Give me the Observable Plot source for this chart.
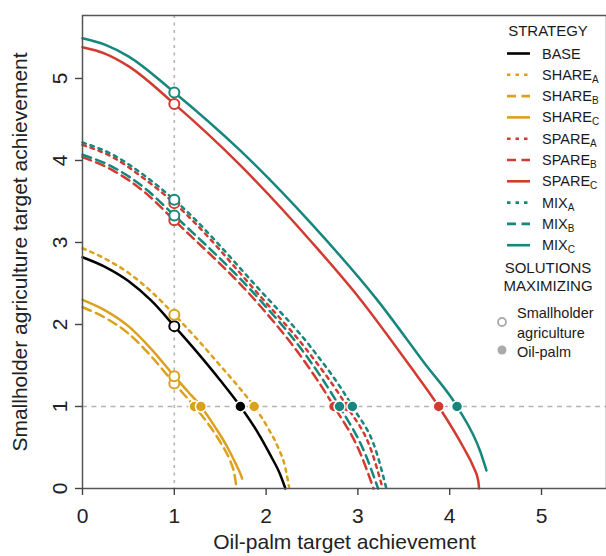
<!DOCTYPE html>
<html><head><meta charset="utf-8">
<script src="https://cdn.jsdelivr.net/npm/d3@7"></script>
<script src="https://cdn.jsdelivr.net/npm/@observablehq/plot@0.6"></script>
<style>
html,body{margin:0;padding:0;background:#fff;overflow:hidden}
#wrap{position:relative;width:606px;height:556px;font-family:"Liberation Sans",Arial,Helvetica,sans-serif}
#wrap svg{position:absolute;left:0;top:0}
</style></head><body><div id="wrap"></div>
<script>
// ---- data ----
const strategies = ["BASE","SHARE_A","SHARE_B","SHARE_C","SPARE_A","SPARE_B","SPARE_C","MIX_A","MIX_B","MIX_C"];
const legendMain = ["BASE","SHARE","SHARE","SHARE","SPARE","SPARE","SPARE","MIX","MIX","MIX"];
const legendSub  = ["","A","B","C","A","B","C","A","B","C"];

const BASE    = [[0,2.82],[0.25,2.70],[0.5,2.53],[0.75,2.29],[1,1.98],[1.25,1.66],[1.5,1.32],[1.72,1.0],[1.9,0.7],[2.05,0.4],[2.15,0.18],[2.21,0]];
const SHARE_A = [[0,2.93],[0.25,2.80],[0.5,2.63],[0.75,2.40],[1,2.12],[1.25,1.82],[1.5,1.50],[1.7,1.24],[1.87,1.0],[2.02,0.74],[2.13,0.5],[2.21,0.25],[2.25,0.02]];
const SHARE_B = [[0,2.21],[0.25,2.08],[0.5,1.89],[0.75,1.61],[1,1.28],[1.22,1.0],[1.40,0.74],[1.52,0.53],[1.60,0.36],[1.65,0.2],[1.68,0]];
const SHARE_C = [[0,2.30],[0.25,2.17],[0.5,1.98],[0.75,1.70],[1,1.37],[1.15,1.18],[1.29,1.0],[1.45,0.74],[1.58,0.5],[1.67,0.3],[1.72,0.18],[1.74,0.12]];
const SPARE_A = [[0,4.19],[0.33,4.04],[0.67,3.78],[1,3.48],[1.94,2.34],[2.45,1.68],[2.88,1.0],[3.15,0.45],[3.27,0]];
const SPARE_B = [[0,4.04],[0.33,3.88],[0.67,3.62],[1,3.27],[1.94,2.22],[2.40,1.58],[2.74,1.0],[3.03,0.42],[3.17,0]];
const SPARE_C = [[0,5.38],[0.25,5.30],[0.5,5.15],[1,4.69],[1.72,3.94],[2.5,3.0],[3.01,2.33],[3.55,1.52],[3.88,1.0],[4.15,0.5],[4.26,0.26],[4.31,0.1],[4.32,0]];
const MIX_A   = [[0,4.22],[0.33,4.07],[0.67,3.82],[1,3.52],[1.94,2.41],[2.49,1.72],[2.94,1.0],[3.2,0.45],[3.31,0]];
const MIX_B   = [[0,4.07],[0.33,3.92],[0.67,3.67],[1,3.33],[1.94,2.29],[2.45,1.60],[2.80,1.0],[3.08,0.42],[3.22,0]];
const MIX_C   = [[0,5.49],[0.25,5.41],[0.5,5.27],[1,4.83],[1.72,4.12],[2.5,3.22],[3.21,2.3],[3.73,1.52],[4.08,1.0],[4.34,0.43],[4.40,0.22]];
const curves = [BASE,SHARE_A,SHARE_B,SHARE_C,SPARE_A,SPARE_B,SPARE_C,MIX_A,MIX_B,MIX_C];

// solutions maximizing smallholder agriculture (at oil-palm target = 1)
const smallholderMaxY = [1.98,2.12,1.28,1.37,3.48,3.27,4.69,3.52,3.33,4.83];
// solutions maximizing oil-palm (at smallholder target = 1)
const oilPalmMaxX = [1.72,1.87,1.22,1.29,2.88,2.74,3.88,2.94,2.80,4.08];

const xTicks = [0,1,2,3,4,5];
const yTicks = [0,1,2,3,4,5];
const targetLevel = [1];

// ---- styles ----
const familyColor = {BASE:"#000000", SHARE:"#dca11c", SPARE:"#d13b30", MIX:"#16877c"};
const subDash = {"":undefined, A:"3.5,5", B:"9,5.5", C:undefined};
const colorOf = i => familyColor[legendMain[i]];
const dashOf = i => subDash[legendSub[i]];

const openPts = strategies.map((s,i)=>({i, x:targetLevel[0], y:smallholderMaxY[i]}));
const fillPts = strategies.map((s,i)=>({i, x:oilPalmMaxX[i], y:targetLevel[0]}));

const lineMarks = curves.map((c,i)=>Plot.line(c,{x:d=>d[0], y:d=>d[1], stroke:colorOf(i), strokeWidth:2.5,
  strokeDasharray:dashOf(i), curve:"monotone-x"}));

const plot = Plot.plot({
  width:606, height:556,
  marginLeft:82, marginRight:0, marginTop:15, marginBottom:68,
  style:{fontFamily:'"Liberation Sans",Arial,Helvetica,sans-serif', fontSize:"21px", color:"#222", background:"transparent"},
  x:{domain:[0,5.708]},
  y:{domain:[0,5.768]},
  marks:[
    Plot.ruleX(targetLevel,{stroke:"#b3b3b3", strokeWidth:1.6, strokeDasharray:"3,4.5"}),
    Plot.ruleY(targetLevel,{stroke:"#b3b3b3", strokeWidth:1.6, strokeDasharray:"5,4.5"}),
    ...lineMarks,
    Plot.dot(openPts,{x:"x", y:"y", r:5, fill:"white", stroke:d=>colorOf(d.i), strokeWidth:2}),
    Plot.dot(fillPts,{x:"x", y:"y", r:5.5, fill:d=>colorOf(d.i), stroke:"white", strokeWidth:1.5}),
    Plot.frame({stroke:"#555", strokeWidth:1.5}),
    Plot.axisX({ticks:xTicks, tickSize:7, tickPadding:13, tickFormat:d=>String(d), fontSize:21, label:null, stroke:"#444", strokeWidth:1.4}),
    Plot.axisY({ticks:yTicks, tickSize:7, tickFormat:()=>"", label:null, stroke:"#444", strokeWidth:1.4}),
    Plot.text(yTicks,{y:d=>d, text:d=>String(d), frameAnchor:"left", textAnchor:"middle", dx:-22, rotate:-90, fontSize:21, fill:"#222"}),
    Plot.text(["Oil-palm target achievement"],{text:d=>d, frameAnchor:"bottom", textAnchor:"middle", dy:60, fontSize:21, fill:"#222"}),
    Plot.text(["Smallholder agriculture target achievement"],{text:d=>d, frameAnchor:"left", textAnchor:"middle", dx:-62, rotate:-90, fontSize:21, fill:"#222"})
  ]
});
const wrap = document.getElementById("wrap");
wrap.appendChild(plot);

// ---- legend ----
const L = d3.select(wrap).append("svg").attr("width",606).attr("height",556)
  .style("font-family",'"Liberation Sans",Arial,Helvetica,sans-serif').style("font-size","14.5px");
L.append("text").attr("x",548).attr("y",30).attr("text-anchor","middle").attr("dominant-baseline","central")
  .attr("fill","#1a1a1a").style("font-size","15px").text("STRATEGY");
strategies.forEach((s,i)=>{
  const y = 53.5 + i*21.3;
  L.append("line").attr("x1",507).attr("x2",530).attr("y1",y).attr("y2",y)
    .attr("stroke",colorOf(i)).attr("stroke-width",2.6).attr("stroke-dasharray",dashOf(i)||null);
  const t = L.append("text").attr("x",542).attr("y",y).attr("dominant-baseline","central").attr("fill","#1a1a1a");
  t.append("tspan").text(legendMain[i]);
  if (legendSub[i]) t.append("tspan").attr("dy",4).attr("font-size","10px").text(legendSub[i]);
});
L.append("text").attr("x",548).attr("y",267).attr("text-anchor","middle").attr("dominant-baseline","central").attr("fill","#1a1a1a").style("font-size","15px").text("SOLUTIONS");
L.append("text").attr("x",548).attr("y",285).attr("text-anchor","middle").attr("dominant-baseline","central").attr("fill","#1a1a1a").style("font-size","15px").text("MAXIMIZING");
L.append("circle").attr("cx",502).attr("cy",322).attr("r",4).attr("fill","white").attr("stroke","#aaa").attr("stroke-width",1.8);
L.append("circle").attr("cx",502).attr("cy",350).attr("r",4.5).attr("fill","#aaa");
[["Smallholder",313],["agriculture",333],["Oil-palm",352]].forEach(([s,y])=>{
  L.append("text").attr("x",517).attr("y",y).attr("dominant-baseline","central").attr("fill","#1a1a1a").text(s);
});
</script></body></html>
